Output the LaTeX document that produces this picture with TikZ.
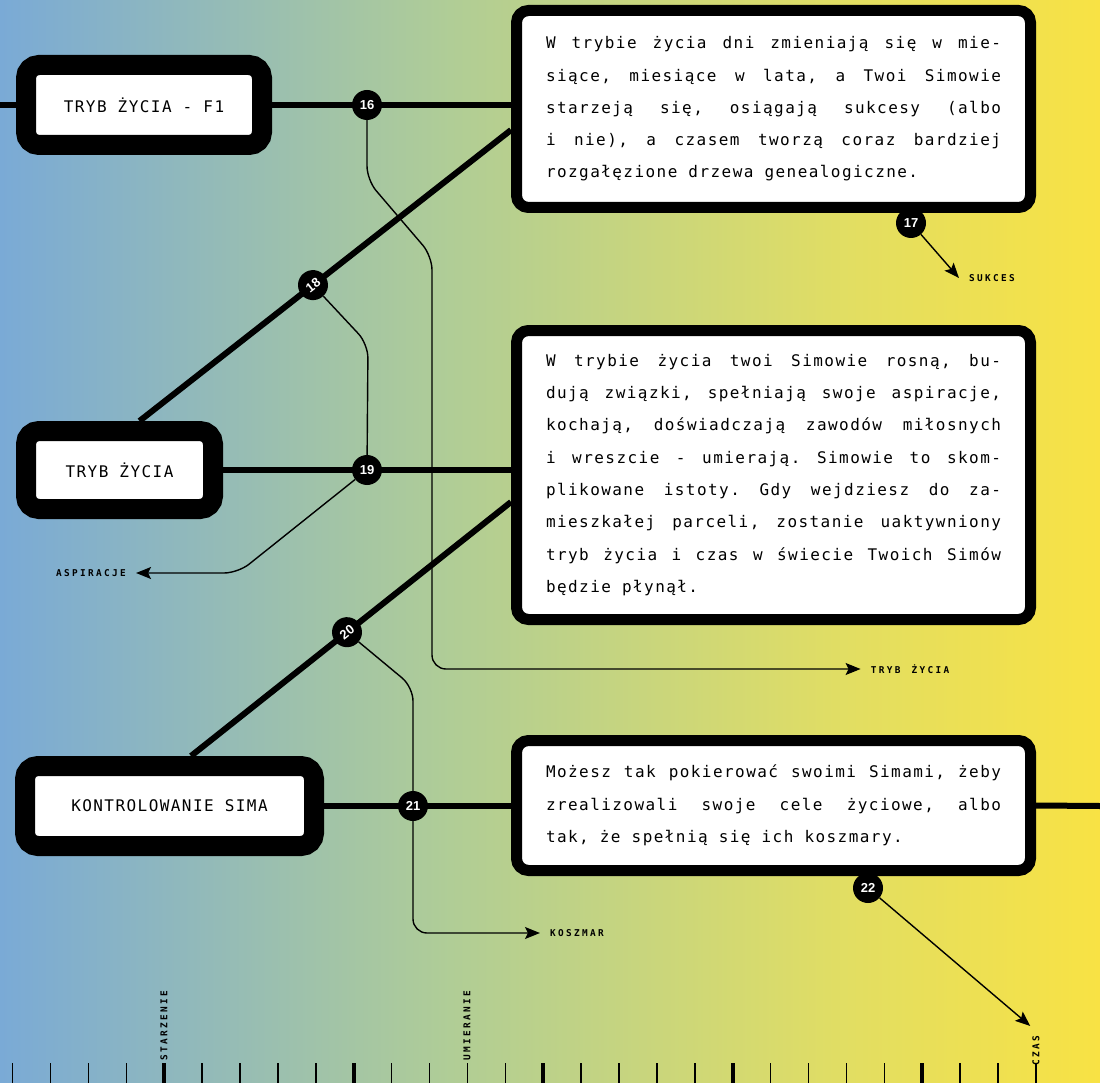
\documentclass[tikz,border=0pt]{standalone}
\usepackage{fontspec}
\usetikzlibrary{arrows.meta}

\newfontfamily\bodyfont[LetterSpace=9]{DejaVu Sans Mono}
\newfontfamily\tagfont[LetterSpace=25]{DejaVu Sans Mono}
\newfontfamily\numfont{Liberation Sans}

\definecolor{bgA}{RGB}{122,170,214}
\definecolor{bgB}{RGB}{176,205,150}
\definecolor{bgC}{RGB}{226,222,98}
\definecolor{bgD}{RGB}{248,226,68}

\newdimen\cellw
\cellw=11.07pt
\newcommand{\bodytext}{\bodyfont\fontsize{16}{32.3}\selectfont}

% justified line (spaces stretch) and plain line (one cell per space)
\ExplSyntaxOn
\tl_new:N \l_simline_tl
\NewDocumentCommand \jline { m }
  {
    \tl_set:Nn \l_simline_tl {#1}
    \tl_replace_all:Nnn \l_simline_tl { ~ } { \hfill }
    \makebox[455pt][s]{ \l_simline_tl }
  }
\NewDocumentCommand \pline { m }
  {
    \tl_set:Nn \l_simline_tl {#1}
    \tl_replace_all:Nnn \l_simline_tl { ~ } { \hskip \cellw }
    \l_simline_tl
  }
\ExplSyntaxOff

\pgfdeclarelayer{bg}
\pgfsetlayers{bg,main}

\begin{document}
\begin{tikzpicture}[x=1pt,y=-1pt]
	\tikzstyle{box_label} = [draw=black, fill=white, line width=20pt, rounded corners=13pt, inner sep=0pt, font=\bodyfont\fontsize{16}{18}\selectfont]
	\tikzstyle{box_text} = [draw=black, fill=white, line width=11pt, rounded corners=12pt, minimum width=514pt, text width=455pt, align=left, font=\bodytext]
	\tikzstyle{num_circle} = [circle, fill=black, minimum size=30pt, inner sep=0pt, text=white, font=\numfont\bfseries\fontsize{13}{13}\selectfont]
	\tikzstyle{tag_label} = [inner xsep=10pt, inner ysep=2pt, font=\tagfont\bfseries\fontsize{9.4}{9.4}\selectfont]
	\tikzstyle{line_thick} = [line width=6pt]
	\tikzstyle{line_thin} = [line width=1.4pt, rounded corners=14pt, -{Stealth[length=15pt,width=12pt,inset=3pt]}]

	\useasboundingbox (0,0) rectangle (1100,1083);

%------------------------------------------------------------
	\node[box_label, minimum width=236pt, minimum height=80pt] (f1) at (144,105) {\pline{TRYB ŻYCIA - F1}};
	\node[box_label, minimum width=187pt, minimum height=78pt] (life) at (119.5,470) {\pline{TRYB ŻYCIA}};
	\node[box_label, minimum width=289pt, minimum height=80pt] (ctrl) at (169.5,806) {\pline{KONTROLOWANIE SIMA}};

%------------------------------------------------------------
	\node[box_text, minimum height=197pt] (t1) at (773.5,109) {%
		\jline{W trybie życia dni zmieniają się w mie-}\\
		\jline{siące, miesiące w lata, a Twoi Simowie}\\
		\jline{starzeją się, osiągają sukcesy (albo}\\
		\jline{i nie), a czasem tworzą coraz bardziej}\\
		\pline{rozgałęzione drzewa genealogiczne.}};

	\node[box_text, minimum height=289pt] (t2) at (773.5,475) {%
		\jline{W trybie życia twoi Simowie rosną, bu-}\\
		\jline{dują związki, spełniają swoje aspiracje,}\\
		\jline{kochają, doświadczają zawodów miłosnych}\\
		\jline{i wreszcie - umierają. Simowie to skom-}\\
		\jline{plikowane istoty. Gdy wejdziesz do za-}\\
		\jline{mieszkałej parceli, zostanie uaktywniony}\\
		\jline{tryb życia i czas w świecie Twoich Simów}\\
		\pline{będzie płynął.}};

	\node[box_text, minimum height=130pt] (t3) at (773.5,805.5) {%
		\jline{Możesz tak pokierować swoimi Simami, żeby}\\
		\jline{zrealizowali swoje cele życiowe, albo}\\
		\pline{tak, że spełnią się ich koszmary.}};

%------------------------------------------------------------
	\node[tag_label] (aspir) at (91,573) {ASPIRACJE};
	\node[tag_label] (sukces) at (992,278) {SUKCES};
	\node[tag_label] (mode) at (910,669) {\pline{TRYB ŻYCIA}};
	\node[tag_label] (koszmar) at (577,933) {KOSZMAR};
	\node[tag_label, rotate=90] (czas) at (1036,1051) {CZAS};
	\node[tag_label, rotate=90] (starz) at (164,1026) {STARZENIE};
	\node[tag_label, rotate=90] (umier) at (467,1026) {UMIERANIE};

%------------------------------------------------------------
	\coordinate (in1) at (0,105);
	\coordinate (out3) at (1100,806);
	\coordinate (d1s) at ([xshift=20pt]life.north);
	\coordinate (d1e) at ([yshift=-21pt]t1.west);
	\coordinate (d2s) at ([xshift=21.5pt]ctrl.north);
	\coordinate (d2e) at ([yshift=-27pt]t2.west);

	\node[num_circle] (c16) at (367,105) {16};
	\node[num_circle] (c17) at (911,223) {17};
	\path (d1s) -- node[num_circle, sloped, pos=0.467] (c18) {18} (d1e);
	\node[num_circle] (c19) at (367,470) {19};
	\path (d2s) -- node[num_circle, sloped, pos=0.4875] (c20) {20} (d2e);
	\node[num_circle] (c21) at (413,806) {21};
	\node[num_circle] (c22) at (868,888) {22};

%------------------------------------------------------------
	\foreach \k in {0,...,27}
		\draw[line width=1.5pt] ({12.6+37.9*\k},1063) -- ({12.6+37.9*\k},1083);
	\foreach \k in {4,9,...,24}
		\draw[line width=4pt] ({12.6+37.9*\k},1063) -- ({12.6+37.9*\k},1083);

%------------------------------------------------------------
	\begin{pgfonlayer}{bg}
	\shade[left color=bgA, right color=bgB] (0,0) rectangle (451,1083);
	\shade[left color=bgB, right color=bgC] (450,0) rectangle (851,1083);
	\shade[left color=bgC, right color=bgD] (850,0) rectangle (1100,1083);

	\draw[line_thick] (in1) -- (f1.west);
	\draw[line_thick] (f1.east) -- (f1.east -| t1.west);
	\draw[line_thick] (d1s) -- (d1e);
	\draw[line_thick] (life.east) -- (life.east -| t2.west);
	\draw[line_thick] (d2s) -- (d2e);
	\draw[line_thick] (ctrl.east) -- (ctrl.east -| t3.west);
	\draw[line_thick] (t3.east) -- (out3);

	\draw[line_thin] (c16) -- (367,180) -- (432,256) -- (432,669) -- (mode.west);
	\draw[line_thin] (c17) -- (sukces.west);
	\draw[line_thin, -] (c18) -- (368,344) -- (c19);
	\draw[line_thin] (c19) -- (238,573) -- (aspir.east);
	\draw[line_thin] (c20) -- (413,687) -- (413,933) -- (koszmar.west);
	\draw[line_thin] (c22) -- (czas.north east);
	\end{pgfonlayer}

\end{tikzpicture}
\end{document}
